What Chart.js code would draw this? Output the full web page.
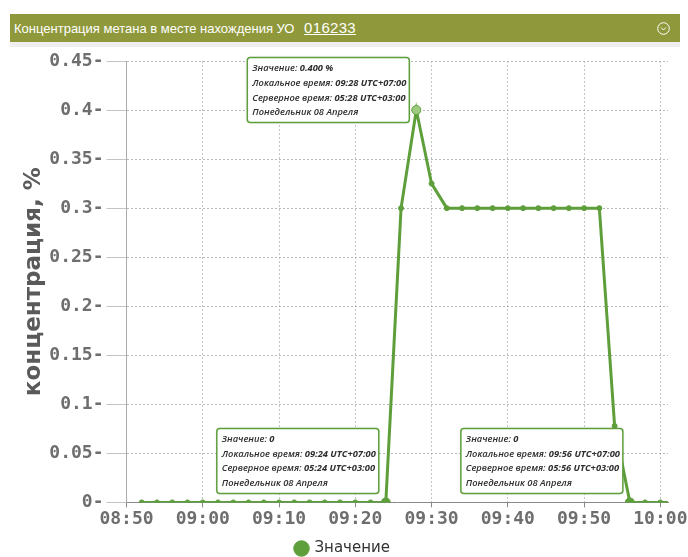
<!DOCTYPE html>
<html>
<head>
<meta charset="utf-8">
<script src="https://cdn.jsdelivr.net/npm/chart.js@4.4.1/dist/chart.umd.min.js"></script>
<style>
    body { margin: 0; background: #fff; overflow: hidden; width: 688px; height: 557px; position: relative; }
    #header {
        position: absolute; left: 10px; top: 14px; width: 670px; height: 28px;
        background: #8f993b; color: #fff; font-family: "Liberation Sans", Arial, sans-serif;
        font-size: 13px; line-height: 28px;
    }
    #header .title { position: absolute; left: 4px; top: 0; }
    #header .id { font-size: 15px; text-decoration: underline; margin-left: 6px; letter-spacing: 0.3px; }
    #header svg { position: absolute; right: 10px; top: 8px; }
    #strip { position: absolute; left: 10px; top: 42px; width: 670px; height: 5px; background: #efefef; }
    #wrap { position: absolute; left: -14px; top: 47px; width: 720px; height: 519px; }
</style>
</head>
<body>
<div id="header">
    <span class="title">Концентрация метана в месте нахождения УО <span class="id">016233</span></span>
    <svg width="13" height="13" viewBox="0 0 13 13"><circle cx="6.5" cy="6.5" r="5.8" fill="none" stroke="#fff" stroke-width="1"/><polyline points="4,5.5 6.5,8 9,5.5" fill="none" stroke="#fff" stroke-width="1"/></svg>
</div>
<div id="strip"></div>
<div id="wrap"><canvas id="methaneChart"></canvas></div>
<script>
// время замеров (локальное) и значения концентрации, %
const timeLabels = [
    '08:52', '08:54', '08:56', '08:58', '09:00', '09:02', '09:04', '09:06', '09:08',
    '09:10', '09:12', '09:14', '09:16', '09:18', '09:20', '09:22', '09:24', '09:26',
    '09:28', '09:30', '09:32', '09:34', '09:36', '09:38', '09:40', '09:42', '09:44',
    '09:46', '09:48', '09:50', '09:52', '09:54', '09:56', '09:58', '10:00', '10:02'
];
const concentration = [
    0, 0, 0, 0, 0, 0, 0, 0, 0,
    0, 0, 0, 0, 0, 0, 0, 0, 0.3,
    0.4, 0.325, 0.3, 0.3, 0.3, 0.3, 0.3, 0.3, 0.3,
    0.3, 0.3, 0.3, 0.3, 0.078, 0, 0, 0, 0
];
const xTickLabels = ['08:50', '09:00', '09:10', '09:20', '09:30', '09:40', '09:50', '10:00'];
const yTicks = [0, 0.05, 0.1, 0.15, 0.2, 0.25, 0.3, 0.35, 0.4, 0.45];
const tooltipTimes = ['09:28', '09:24', '09:56'];
const dayText = 'Понедельник 08 Апреля';

function toMinutes(t) {
    const p = t.split(':');
    return parseInt(p[0]) * 60 + parseInt(p[1]);
}
function fmtTime(m) {
    const h = Math.floor(m / 60), mm = m % 60;
    return String(h).padStart(2, '0') + ':' + String(mm).padStart(2, '0');
}

const points = timeLabels.map((t, i) => ({ x: toMinutes(t), y: concentration[i] }));
const tipIndexes = tooltipTimes.map(t => timeLabels.indexOf(t));

const green = '#5e9f3c';

// рисуем подсказки у выбранных точек
const fixedTooltips = {
    id: 'fixedTooltips',
    afterDatasetsDraw(chart) {
        const ctx = chart.ctx;
        const area = chart.chartArea;
        const meta = chart.getDatasetMeta(0);
        const w = 162, h = 65;
        tipIndexes.forEach(idx => {
            const el = meta.data[idx];
            const v = concentration[idx];
            const local = timeLabels[idx];
            const server = fmtTime(toMinutes(local) - 240);
            const x = el.x - 7 - w;
            const y = Math.min(el.y - h / 2 - 20, area.bottom - 9 - h);

            ctx.save();
            ctx.shadowColor = 'rgba(0,0,0,0.15)';
            ctx.shadowBlur = 3;
            ctx.fillStyle = '#fff';
            ctx.strokeStyle = green;
            ctx.lineWidth = 1.5;
            ctx.beginPath();
            ctx.roundRect(x, y, w, h, 3);
            ctx.fill();
            ctx.shadowColor = 'transparent';
            ctx.stroke();

            ctx.fillStyle = '#2e2e2e';
            ctx.textBaseline = 'middle';
            const lines = [
                [['Значение: ', 'italic 600'], [v === 0 ? '0' : v.toFixed(3) + ' %', 'italic bold']],
                [['Локальное время: ', 'italic 600'], [local + ' UTC+07:00', 'italic bold']],
                [['Серверное время: ', 'italic 600'], [server + ' UTC+03:00', 'italic bold']],
                [[dayText, 'italic 600']]
            ];
            lines.forEach((segs, li) => {
                let tx = x + 5;
                const ty = y + 11 + li * 14.7;
                segs.forEach(s => {
                    ctx.font = s[1] + ' 9.3px "Open Sans"';
                    ctx.fillText(s[0], tx, ty);
                    tx += ctx.measureText(s[0]).width;
                });
            });
            ctx.restore();
        });
    }
};

const ctx = document.getElementById('methaneChart').getContext('2d');
new Chart(ctx, {
    type: 'line',
    data: {
        datasets: [{
            label: 'Значение',
            data: points,
            borderColor: green,
            backgroundColor: green,
            borderWidth: 3,
            tension: 0,
            pointRadius: c => tipIndexes.includes(c.dataIndex) || c.raw.y === 0.4 ? 4.5 : 2.5,
            pointBackgroundColor: c => c.raw && c.raw.y === 0.4 ? '#9fcb80' : green,
            pointBorderColor: green,
            pointBorderWidth: 1
        }]
    },
    options: {
        responsive: true,
        maintainAspectRatio: false,
        animation: false,
        layout: { padding: { left: 32, top: 14, right: 38, bottom: 0 } },
        scales: {
            x: {
                type: 'linear',
                min: toMinutes(xTickLabels[0]),
                max: 601,
                afterBuildTicks: axis => {
                    axis.ticks = xTickLabels.map(t => ({ value: toMinutes(t) }));
                },
                ticks: {
                    callback: v => fmtTime(v),
                    color: '#6e6e6e',
                    font: { family: '"DejaVu Sans Mono"', size: 18, weight: 'bold' },
                    padding: 1,
                    maxRotation: 0
                },
                grid: { color: '#c4c4c4', tickLength: 5, tickColor: '#888' },
                border: { color: '#888', dash: [2, 2] }
            },
            y: {
                min: 0,
                max: 0.45,
                afterBuildTicks: axis => {
                    axis.ticks = yTicks.map(v => ({ value: v }));
                },
                ticks: {
                    callback: v => (Math.round(v * 100) / 100) + '-',
                    color: '#6e6e6e',
                    font: { family: '"DejaVu Sans Mono"', size: 18, weight: 'bold' },
                    padding: 3
                },
                grid: { color: '#b8b8b8', tickLength: 20, tickColor: '#c4c4c4' },
                border: { color: '#aaa', dash: [2, 2] },
                title: {
                    display: true,
                    text: 'концентрация, %',
                    color: '#5a5a5a',
                    font: { family: '"DejaVu Sans"', size: 23, weight: 'bold', lineHeight: 1.1 },
                    padding: { top: 3, bottom: 0 }
                }
            }
        },
        plugins: {
            legend: {
                position: 'bottom',
                labels: {
                    usePointStyle: true,
                    pointStyle: 'circle',
                    boxWidth: 11,
                    boxHeight: 11,
                    color: '#333',
                    font: { family: '"DejaVu Sans"', size: 15 },
                    padding: 10
                }
            },
            tooltip: { enabled: false }
        }
    },
    plugins: [fixedTooltips]
});
</script>
</body>
</html>
